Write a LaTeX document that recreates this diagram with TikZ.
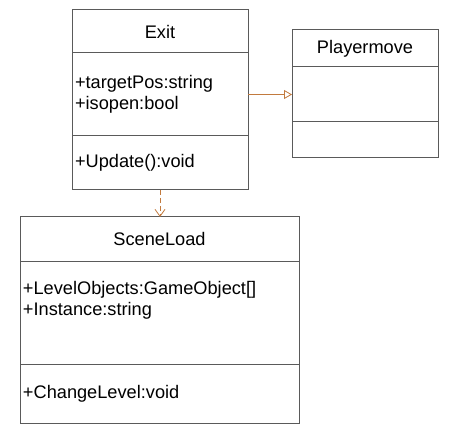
\documentclass[tikz,border=0pt]{standalone}
\usepackage{fontspec}
\setmainfont{Liberation Sans}
\usepackage{tikz}
\usetikzlibrary{arrows.meta,positioning}
\definecolor{umlLine}{HTML}{5A5A5A}
\definecolor{umlLink}{HTML}{C27A3E}
\tikzset{
    umlBase/.style={
        rectangle,
        draw=umlLine,
        line width=1pt,
        outer sep=0pt,
        inner xsep=3pt,
        inner ysep=0pt,
        font=\fontsize{18.2}{21}\selectfont
    },
    % class name compartment
    umlTitle/.style={umlBase, align=center},
    % attributes / operations compartment
    umlPart/.style={umlBase, align=left},
    % connectors
    umlGen/.style={-{Triangle[open, length=8pt, width=9pt]}, draw=umlLink, line width=0.8pt},
    umlDep/.style={-{Straight Barb[length=7pt, width=10pt]}, draw=umlLink, line width=0.8pt, dash pattern=on 5pt off 3pt}
}
\begin{document}
\begin{tikzpicture}[x=1pt, y=-1pt]
\useasboundingbox (0,0) rectangle (452,430);

% Exit
\node[umlTitle, minimum width=176pt, minimum height=43pt] (exitT) at (160,31.5) {Exit};
\node[umlPart, minimum height=83pt, text width=170pt, below=0pt of exitT] (exitA) {+targetPos:string\\+isopen:bool};
\node[umlPart, minimum height=54pt, text width=170pt, below=0pt of exitA] (exitO) {+Update():void};

% Playermove
\node[umlTitle, minimum width=146pt, minimum height=37pt] (moveT) at (365,48.5) {Playermove};
\node[umlPart, minimum height=55pt, text width=140pt, below=0pt of moveT] (moveA) {};
\node[umlPart, minimum height=36pt, text width=140pt, below=0pt of moveA] (moveO) {};

% SceneLoad
\node[umlTitle, minimum width=279pt, minimum height=44pt] (sceneT) at (159.5,239) {SceneLoad};
\node[umlPart, minimum height=103pt, text width=273pt, below=0pt of sceneT] (sceneA) {+LevelObjects:GameObject[]\\+Instance:string\\\strut};
\node[umlPart, minimum height=59pt, text width=273pt, below=0pt of sceneA] (sceneO) {+ChangeLevel:void};

\draw[umlGen] (exitA.east |- moveA.west) -- (moveA.west);
\draw[umlDep] (exitO.south) -- (exitO.south |- sceneT.north);
\end{tikzpicture}
\end{document}
